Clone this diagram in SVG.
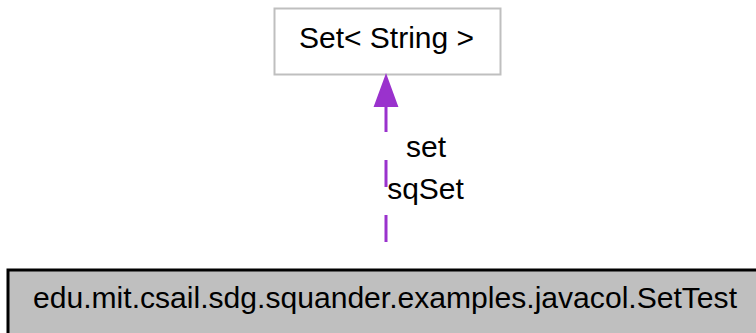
<svg xmlns="http://www.w3.org/2000/svg" width="756" height="333" viewBox="0 0 756 333">
<style>
text{font-family:"Liberation Sans",Arial,Helvetica,sans-serif;font-size:30px;fill:#000}
.edge{stroke:#9a32cd;stroke-width:3;fill:none;stroke-dasharray:27,28}
</style>
<rect width="756" height="333" fill="#fff"/>
<g id="node-set">
<rect x="274.5" y="8.5" width="226" height="66" fill="#fff" stroke="#bfbfbf" stroke-width="2"/>
<text x="386.5" y="48" text-anchor="middle">Set&lt; String &gt;</text>
</g>
<g id="node-settest">
<rect x="8" y="270" width="760" height="70" fill="#bfbfbf" stroke="#000" stroke-width="3"/>
<text x="33" y="308" textLength="704" lengthAdjust="spacingAndGlyphs">edu.mit.csail.sdg.squander.examples.javacol.SetTest</text>
</g>
<g id="connectors">
<path class="edge" d="M386,242 L386,105"/>
<polygon points="386,76 375,106 397,106" fill="#9a32cd" stroke="#9a32cd" stroke-width="2"/>
<text x="426" y="157" text-anchor="middle">set</text>
<text x="425.5" y="199" text-anchor="middle">sqSet</text>
</g>
</svg>
